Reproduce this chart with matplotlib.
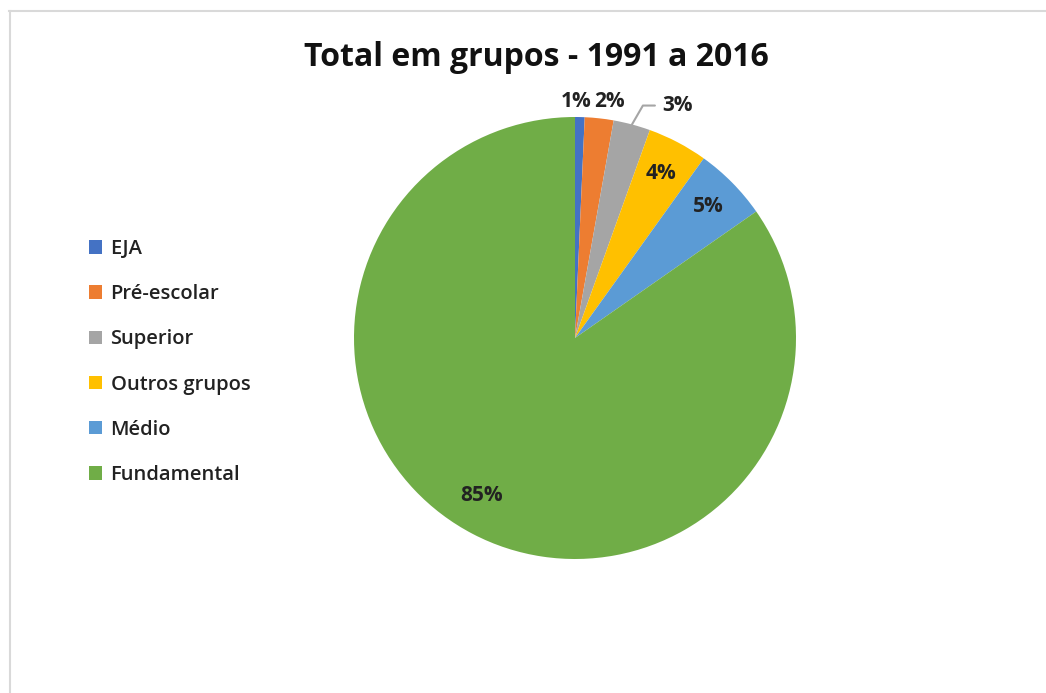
import numpy as np
import matplotlib.pyplot as plt
from matplotlib.lines import Line2D

# dados
grupos = ['EJA', 'Pré-escolar', 'Superior', 'Outros grupos', 'Médio', 'Fundamental']
valores = [0.7, 2.1, 2.7, 4.4, 5.4, 84.7]
rotulos = ['1%', '2%', '3%', '4%', '5%', '85%']
cores = ['#4472C4', '#ED7D31', '#A5A5A5', '#FFC000', '#5B9BD5', '#70AD47']

plt.rcParams['font.family'] = ['Open Sans', 'DejaVu Sans']

fig = plt.figure(figsize=(10.46, 6.93), dpi=100)

# moldura cinza clara do gráfico
fig.add_artist(Line2D([9 / 1046, 1.0], [1 - 10.5 / 693, 1 - 10.5 / 693],
                      transform=fig.transFigure, color='#D9D9D9', lw=1.5))
fig.add_artist(Line2D([9.5 / 1046, 9.5 / 1046], [0.0, 1 - 10.5 / 693],
                      transform=fig.transFigure, color='#D9D9D9', lw=1.5))

ax = fig.add_axes([354 / 1046, 134 / 693, 442 / 1046, 442 / 693])
wedges, _ = ax.pie(valores, colors=cores, startangle=90, counterclock=False,
                   radius=1, wedgeprops=dict(linewidth=0))
ax.set_xlim(-1, 1)
ax.set_ylim(-1, 1)
ax.set_aspect('equal')
ax.axis('off')

# posição dos rótulos (raio relativo, deslocamento angular em graus)
pos_rotulos = [(1.07, 1.0), (1.08, -2.0), (1.13, -6.5), (0.84, 0), (0.85, 0), (0.83, -3)]
for w, txt, (r, da) in zip(wedges, rotulos, pos_rotulos):
    ang = np.deg2rad((w.theta1 + w.theta2) / 2 + da)
    x, y = r * np.cos(ang), r * np.sin(ang)
    if txt == '3%':
        ang_b = np.deg2rad((w.theta1 + w.theta2) / 2)
        ax.annotate(txt, xy=(1.0 * np.cos(ang_b), 1.0 * np.sin(ang_b)),
                    xytext=(x - 0.02, y), ha='left', va='center', fontsize=15,
                    fontweight='bold', color='#222222',
                    arrowprops=dict(arrowstyle='-', color='#A5A5A5', lw=1.5,
                                    connectionstyle='angle,angleA=0,angleB=60,rad=0',
                                    shrinkA=3, shrinkB=0))
    else:
        ax.text(x, y, txt, ha='center', va='center', fontsize=15,
                fontweight='bold', color='#222222')

fig.text(536 / 1046, 1 - 57 / 693, 'Total em grupos - 1991 a 2016',
         ha='center', va='center', fontsize=23, fontweight='bold', color='#111111')

leg = fig.legend(wedges, grupos, loc='upper left',
                 bbox_to_anchor=(89 / 1046, 1 - 239 / 693),
                 frameon=False, fontsize=14.5, labelspacing=1.25,
                 handlelength=0.65, handleheight=0.65, handletextpad=0.42,
                 borderaxespad=0, borderpad=0)
for t in leg.get_texts():
    t.set_fontweight('semibold')
    t.set_color('#222222')

fig.savefig('out.png', dpi=100)
